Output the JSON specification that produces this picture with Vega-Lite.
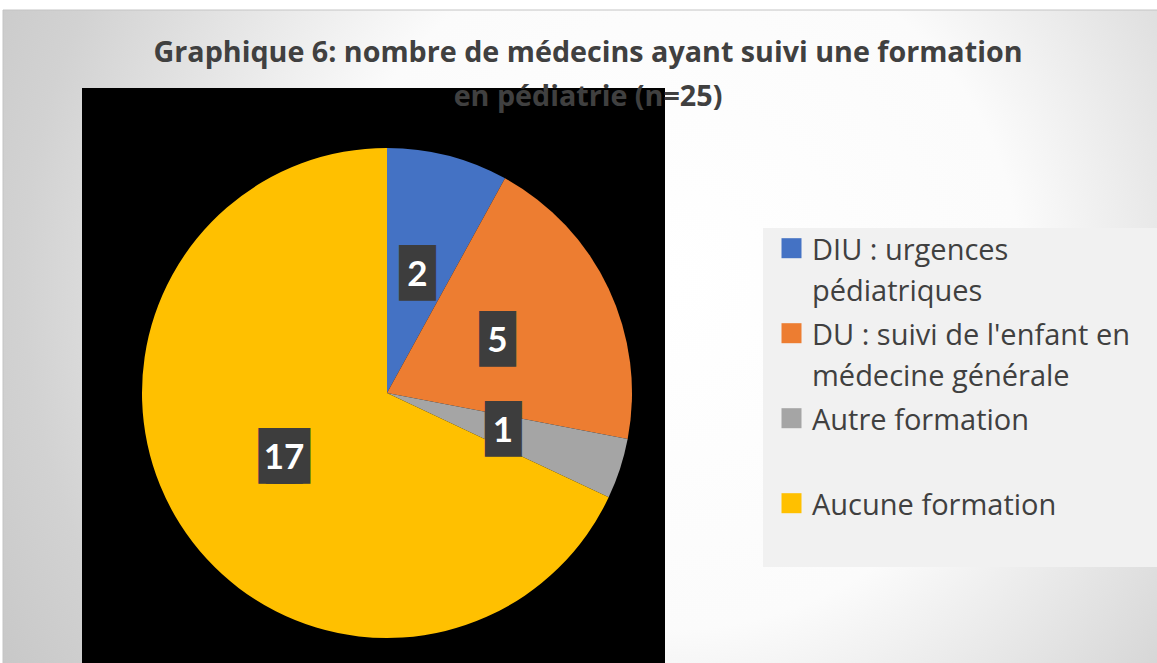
{
  "$schema": "https://vega.github.io/schema/vega-lite/v6.json",
  "width": 1157,
  "height": 663,
  "autosize": {"type": "fit", "contains": "padding"},
  "padding": 0,
  "background": "#ffffff",
  "config": {
    "view": {"stroke": null},
    "style": {"guide-label": {"lineHeight": 41}}
  },
  "datasets": {
    "pie": [
      {"formation": "DIU : urgences pédiatriques", "n": 2, "ordre": 1},
      {"formation": "DU : suivi de l'enfant en médecine générale", "n": 5, "ordre": 2},
      {"formation": "Autre formation", "n": 1, "ordre": 3},
      {"formation": "Aucune formation", "n": 17, "ordre": 4}
    ]
  },
  "layer": [
    {
      "data": {"values": [{}]},
      "mark": {
        "type": "rect",
        "stroke": "#c4c4c4",
        "strokeWidth": 1,
        "fill": {
          "gradient": "radial",
          "x1": 0.58, "y1": 0.45, "r1": 0,
          "x2": 0.58, "y2": 0.45, "r2": 0.75,
          "stops": [
            {"offset": 0, "color": "#ffffff"},
            {"offset": 0.4, "color": "#fbfbfb"},
            {"offset": 0.75, "color": "#d2d2d2"},
            {"offset": 1, "color": "#c0c0c0"}
          ]
        }
      },
      "encoding": {
        "x": {"value": 3},
        "x2": {"value": 1160},
        "y": {"value": 10},
        "y2": {"value": 670}
      }
    },
    {
      "data": {"values": [{}]},
      "mark": {"type": "rect", "fill": "#f1f1f1"},
      "encoding": {
        "x": {"value": 763},
        "x2": {"value": 1160},
        "y": {"value": 228},
        "y2": {"value": 567}
      }
    },
    {
      "data": {"values": [{}]},
      "mark": {"type": "rect", "fill": "#000000"},
      "encoding": {
        "x": {"value": 82},
        "x2": {"value": 665},
        "y": {"value": 88},
        "y2": {"value": 670}
      }
    },
    {
      "data": {"name": "pie"},
      "mark": {"type": "arc", "outerRadius": 245, "strokeWidth": 0},
      "encoding": {
        "theta": {"field": "n", "type": "quantitative", "stack": true},
        "order": {"field": "ordre", "type": "quantitative"},
        "color": {
          "field": "formation",
          "type": "nominal",
          "scale": {
            "domain": ["DIU : urgences pédiatriques", "DU : suivi de l'enfant en médecine générale", "Autre formation", "Aucune formation"],
            "range": ["#4472C4", "#ED7D31", "#A5A5A5", "#FFC000"]
          },
          "legend": {
            "title": null,
            "orient": "none",
            "legendX": 763,
            "legendY": 222,
            "padding": 0,
            "symbolOffset": 14,
            "symbolType": "M-1,0.17L1,0.17L1,2.17L-1,2.17Z",
            "symbolSize": 400,
            "symbolStrokeWidth": 0,
            "labelFont": "Open Sans",
            "labelFontSize": 29,
            "labelColor": "#404040",
            "labelLimit": 500,
            "labelOffset": 6,
            "labelBaseline": "top",
            "rowPadding": 0,
            "labelExpr": "datum.label == 'DIU : urgences pédiatriques' ? ['DIU : urgences', 'pédiatriques'] : datum.label == 'Autre formation' ? ['Autre formation', ' '] : datum.label == 'Aucune formation' ? ['Aucune formation', ' '] : ['DU : suivi de l\\'enfant en', 'médecine générale']"
          }
        },
        "x": {"value": 387},
        "y": {"value": 393}
      }
    },
    {
      "data": {"name": "pie"},
      "mark": {"type": "text", "font": "DejaVu Sans", "fontSize": 47, "color": "#3d3d3d", "align": "center", "baseline": "middle", "radius": 122},
      "encoding": {
        "theta": {"field": "n", "type": "quantitative", "stack": true},
        "order": {"field": "ordre", "type": "quantitative"},
        "detail": {"field": "formation"},
        "text": {"value": "█"},
        "x": {"value": 387},
        "y": {"value": 393}
      }
    },
    {
      "data": {"name": "pie"},
      "mark": {"type": "text", "font": "DejaVu Sans", "fontSize": 47, "color": "#3d3d3d", "align": "center", "baseline": "middle", "radius": 122, "dx": -7.5},
      "encoding": {
        "theta": {"field": "n", "type": "quantitative", "stack": true},
        "order": {"field": "ordre", "type": "quantitative"},
        "detail": {"field": "formation"},
        "text": {"value": "█"},
        "opacity": {"condition": {"test": "datum.n >= 10", "value": 1}, "value": 0},
        "x": {"value": 387},
        "y": {"value": 393}
      }
    },
    {
      "data": {"name": "pie"},
      "mark": {"type": "text", "font": "DejaVu Sans", "fontSize": 47, "color": "#3d3d3d", "align": "center", "baseline": "middle", "radius": 122, "dx": 7.5},
      "encoding": {
        "theta": {"field": "n", "type": "quantitative", "stack": true},
        "order": {"field": "ordre", "type": "quantitative"},
        "detail": {"field": "formation"},
        "text": {"value": "█"},
        "opacity": {"condition": {"test": "datum.n >= 10", "value": 1}, "value": 0},
        "x": {"value": 387},
        "y": {"value": 393}
      }
    },
    {
      "data": {"name": "pie"},
      "mark": {"type": "text", "font": "Lato", "fontSize": 35, "fontWeight": "bold", "color": "#ffffff", "align": "center", "baseline": "middle", "radius": 122},
      "encoding": {
        "theta": {"field": "n", "type": "quantitative", "stack": true},
        "order": {"field": "ordre", "type": "quantitative"},
        "detail": {"field": "formation"},
        "text": {"field": "n", "type": "quantitative"},
        "x": {"value": 387},
        "y": {"value": 393}
      }
    },
    {
      "data": {"values": [{}]},
      "mark": {"type": "text", "font": "Open Sans", "fontSize": 28.7, "fontWeight": "bold", "color": "#404040", "align": "center", "baseline": "alphabetic", "lineHeight": 44},
      "encoding": {
        "text": {"value": ["Graphique 6: nombre de médecins ayant suivi une formation", "en pédiatrie (n=25)"]},
        "x": {"value": 588},
        "y": {"value": 62}
      }
    }
  ]
}
